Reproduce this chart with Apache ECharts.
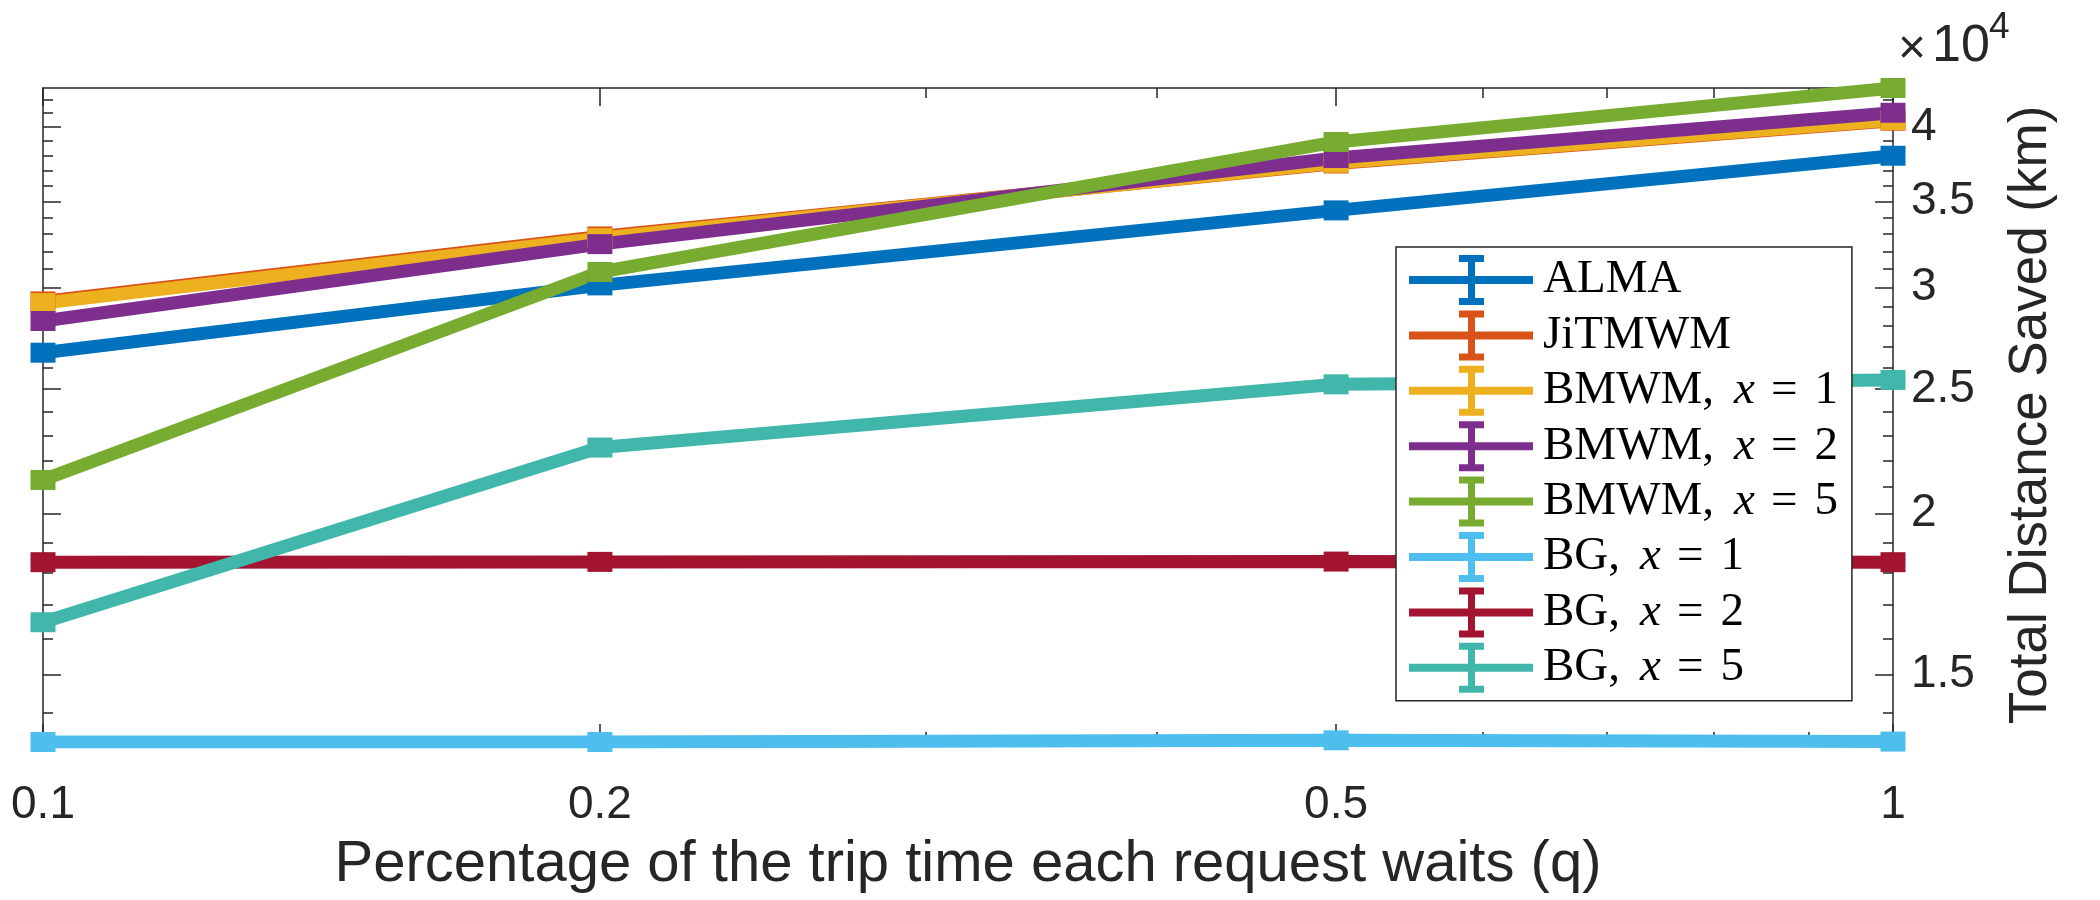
<!DOCTYPE html>
<html>
<head>
<meta charset="utf-8">
<script src="https://cdn.jsdelivr.net/npm/echarts@6/dist/echarts.min.js"></script>
<style>
  html, body { margin: 0; padding: 0; background: #fff; }
  #chart { width: 2100px; height: 900px; }
</style>
</head>
<body>
<div id="chart"></div>
<script>
// x: share of trip time each request waits (q), log scale
var qValues = [0.1, 0.2, 0.5, 1];

// total distance saved (km)
var alma   = [26690, 30110, 34440, 37980];
var jitmwm = [29260, 32870, 37460, 40440];
var bmwm1  = [29170, 32770, 37510, 40490];
var bmwm2  = [28250, 32420, 37830, 41020];
var bmwm5  = [21250, 30840, 38930, 42880];
var bg1    = [13290, 13290, 13330, 13300];
var bg2    = [18340, 18350, 18360, 18340];
var bg5    = [16470, 22520, 25220, 25420];

var seriesNames = ['ALMA', 'JiTMWM', 'BMWM, x = 1', 'BMWM, x = 2', 'BMWM, x = 5',
                   'BG, x = 1', 'BG, x = 2', 'BG, x = 5'];
var seriesValues = [alma, jitmwm, bmwm1, bmwm2, bmwm5, bg1, bg2, bg5];
var colors = ['#0072BD', '#D95319', '#EDB120', '#7E2F8E', '#77AC30', '#4DBEEE', '#A2142F', '#41B6AA'];

// axis limits and ticks
var xMin = 0.1, xMax = 1;
var xMajor = [0.1, 0.2, 0.5, 1];
var xMinor = [0.3, 0.4, 0.6, 0.7, 0.8, 0.9];
var yMin = 13290, yMax = 42880;
var yMajor = [15000, 20000, 25000, 30000, 35000, 40000];
var yMinor = [14000, 16000, 17000, 18000, 19000, 21000, 22000, 23000, 24000,
              26000, 27000, 28000, 29000, 31000, 32000, 33000, 34000,
              36000, 37000, 38000, 39000, 41000, 42000];

var axisColor = '#262626';
var sans = 'Liberation Sans';
var serif = 'Liberation Serif';

// error-bar legend glyph
var errIcon = 'path://M0,21L124,21L124,29L0,29Z M59,0L66,0L66,50L59,50Z M50,0L75,0L75,7L50,7Z M50,43L75,43L75,50L50,50Z';

function tickAxis(dim, pos, ticks, len, withLine) {
  return {
    type: 'log',
    position: pos,
    min: dim === 'x' ? xMin : yMin,
    max: dim === 'x' ? xMax : yMax,
    axisLine: { show: withLine, lineStyle: { color: axisColor, width: 1.5 } },
    axisTick: { show: true, inside: true, length: len, customValues: ticks,
                lineStyle: { color: axisColor, width: 1.5 } },
    axisLabel: { show: false },
    splitLine: { show: false },
    minorTick: { show: false },
    minorSplitLine: { show: false }
  };
}

var xAxes = [
  Object.assign(tickAxis('x', 'bottom', xMajor, 18, true), {
    axisLabel: { show: true, customValues: xMajor, fontFamily: sans, fontSize: 46,
                 color: axisColor, margin: 40,
                 formatter: function (v) { return String(v); } },
    name: 'Percentage of the trip time each request waits (q)',
    nameLocation: 'middle', nameGap: 94,
    nameTextStyle: { fontFamily: sans, fontSize: 58, color: axisColor }
  }),
  tickAxis('x', 'bottom', xMinor, 10, false),
  tickAxis('x', 'top', xMajor, 18, true),
  tickAxis('x', 'top', xMinor, 10, false)
];

var yAxes = [
  Object.assign(tickAxis('y', 'right', yMajor, 18, true), {
    axisLabel: { show: true, customValues: yMajor, fontFamily: sans, fontSize: 46,
                 color: axisColor, margin: 18, padding: [6, 0, 0, 0],
                 formatter: function (v) { return String(v / 10000); } },
    name: 'Total Distance Saved (km)',
    nameLocation: 'middle', nameGap: 112, nameRotate: 90,
    nameTextStyle: { fontFamily: sans, fontSize: 53, color: axisColor }
  }),
  tickAxis('y', 'right', yMinor, 10, false),
  tickAxis('y', 'left', yMajor, 18, true),
  tickAxis('y', 'left', yMinor, 10, false)
];

var series = seriesNames.map(function (name, i) {
  return {
    name: name,
    type: 'line',
    xAxisIndex: 0,
    yAxisIndex: 0,
    data: qValues.map(function (q, j) { return [q, seriesValues[i][j]]; }),
    symbol: 'rect',
    symbolSize: [25, 20],
    showSymbol: true,
    color: colors[i],
    itemStyle: { color: colors[i], borderWidth: 0 },
    lineStyle: { color: colors[i], width: 13 },
    emphasis: { disabled: true }
  };
});

// "BMWM, x = 1" -> roman label, italic x, spaced equals sign
function legendLabel(name) {
  var m = name.match(/^(.*), x = (\d)$/);
  if (!m) return '{n|' + name + '}';
  return '{n|' + m[1] + ',}{i|x}{e|=}{n|' + m[2] + '}';
}

var chart = echarts.init(document.getElementById('chart'), null, { renderer: 'canvas' });
chart.setOption({
  animation: false,
  backgroundColor: '#fff',
  grid: { left: 43, right: 207, top: 88, bottom: 158, containLabel: false, outerBoundsMode: 'none' },
  xAxis: xAxes,
  yAxis: yAxes,
  legend: {
    orient: 'vertical',
    left: 1396,
    top: 247,
    padding: [8, 14, 8, 13],
    itemWidth: 124,
    itemHeight: 50,
    itemGap: 5.4,
    icon: errIcon,
    backgroundColor: '#fff',
    borderColor: axisColor,
    borderWidth: 1.5,
    borderRadius: 0,
    itemStyle: { borderWidth: 0 },
    selectedMode: false,
    data: seriesNames,
    formatter: legendLabel,
    textStyle: {
      width: 299,
      lineHeight: 50,
      color: '#000',
      rich: {
        n: { fontFamily: serif, fontSize: 47, color: '#000', lineHeight: 50, padding: [0, 0, 0, 5] },
        i: { fontFamily: serif, fontStyle: 'italic', fontSize: 47, color: '#000', lineHeight: 50, padding: [0, 0, 0, 20] },
        e: { fontFamily: serif, fontSize: 47, color: '#000', lineHeight: 50, padding: [0, 12, 0, 16] }
      }
    }
  },
  graphic: [
    { type: 'text', left: 1898, top: 26,
      style: { text: '×', font: '48px "Liberation Sans"', fill: axisColor } },
    { type: 'text', left: 1932, top: 21,
      style: { text: '10', font: '52px "Liberation Sans"', fill: axisColor } },
    { type: 'text', left: 1989, top: 9,
      style: { text: '4', font: '37px "Liberation Sans"', fill: axisColor } }
  ],
  series: series
});
</script>
</body>
</html>
